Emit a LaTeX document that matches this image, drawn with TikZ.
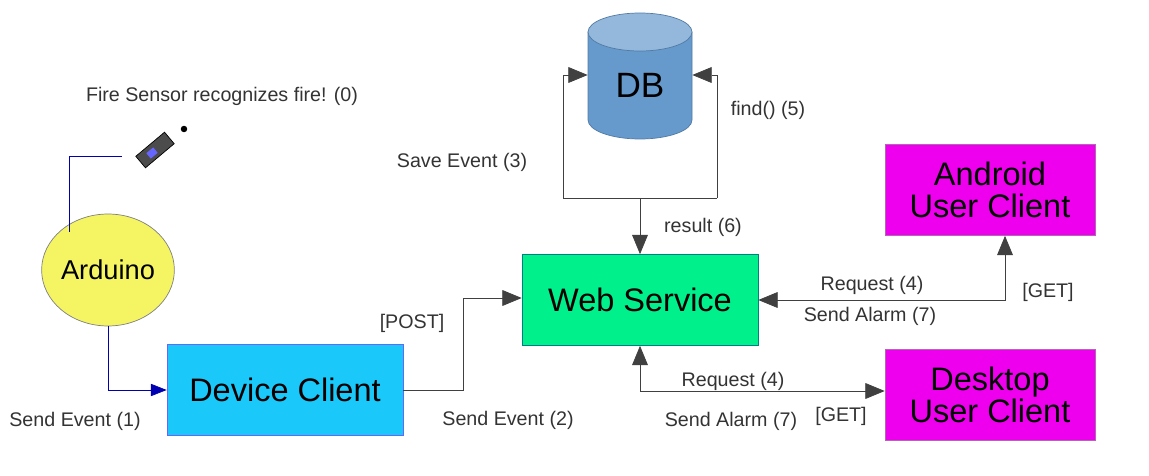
\documentclass[tikz,border=0pt]{standalone}
\usepackage{fontspec}
\setmainfont{Liberation Sans}
\usetikzlibrary{shapes.geometric,arrows.meta}
\definecolor{dbblue}{HTML}{6699CC}
\definecolor{wsgreen}{HTML}{00F08C}
\definecolor{devblue}{HTML}{1AC8FA}
\definecolor{usermag}{HTML}{EE00EE}
\definecolor{ardyel}{HTML}{F5F564}
\definecolor{lbl}{HTML}{333333}
\begin{document}
\begin{tikzpicture}[x=0.02cm,y=-0.02cm,
    box/.style = {draw, minimum width=4.72cm, minimum height=1.82cm, font=\fontsize{18.5}{20}\selectfont, align=center},
    lbl/.style = {text=lbl, font=\fontsize{11.2}{13}\selectfont},
    link/.style = {draw=black!75, -{Triangle[length=11pt,width=9pt]}},
    both/.style = {draw=black!75, {Triangle[length=11pt,width=9pt]}-{Triangle[length=11pt,width=9pt]}}]
        \useasboundingbox (0,0) rectangle (1149,476);
        % database
        \fill[dbblue, draw=dbblue!80!black] (588,32) -- (588,120) arc[start angle=180, end angle=0, x radius=52, y radius=19] -- (692,32) -- cycle;
        \filldraw[fill=dbblue!70!white, draw=dbblue!80!black] (640,32) ellipse[x radius=52, y radius=19];
        \node[minimum width=2.08cm, minimum height=2.5cm, inner sep=0pt] (db) at (640,77) {};
        \node[font=\fontsize{20}{22}\selectfont] (dbt) at (640,85) {DB};
        \node[box, fill=wsgreen, draw=teal] (ws) at (640,300) {Web Service};
        \node[box, fill=devblue, draw=blue!60] (dev) at (285,390) {Device Client};
        \node[box, fill=usermag, draw=violet!60, minimum width=4.2cm] (and) at (990,190) {Android\\[-2pt]User Client};
        \node[box, fill=usermag, draw=violet!60, minimum width=4.2cm] (desk) at (990,395) {Desktop\\[-2pt]User Client};
        \node[ellipse, draw=gray, fill=ardyel, inner sep=0pt, minimum width=2.14cm, minimum height=2.24cm, font=\fontsize{15.5}{17}\selectfont] (ard) at (108,270) {Arduino};
        % sensor
        \node[rotate=40, fill=black!70, draw=black, minimum width=0.75cm, minimum height=0.3cm, inner sep=0pt] (sen) at (155,150) {};
        \node[rotate=40, fill=blue!60, minimum width=0.18cm, minimum height=0.14cm, inner sep=0pt] at (152,153) {};
        \node[circle, fill=black, inner sep=1.3pt] (tip) at (184,129) {};
        \coordinate (sl) at (122,156);
        \coordinate (al) at (69,156);
        \coordinate (at) at (69,232);
        \draw[blue!70!black] (at) -- (al) -- (sl);
        \draw[blue!70!black, -{Triangle[length=9pt,width=7pt]}] (ard.south) |- (dev.west);
        % db loop
        \coordinate (bl) at (563,198);
        \coordinate (br) at (717,198);
        \coordinate (bm) at (640,198);
        \draw[link] (bl) |- (db.west |- 0,75);
        \draw[link] (br) |- (db.east |- 0,75);
        \draw[draw=black!75] (bl) -- (br);
        \draw[link] (bm) -- (ws.north);
        \coordinate (p1) at (463,298);
        \draw[link] (dev.east) -| (p1) -- (ws.west |- p1);
        \coordinate (ac) at (1005,300);
        \draw[both] (ws.east) -- (ac) -- (and.south -| ac);
        \coordinate (dc) at (640,391);
        \draw[both] (ws.south) -- (dc) -- (desk.west |- dc);
        % labels
        \node[lbl] (l0) at (222,96) {Fire Sensor recognizes fire! (0)};
        \node[lbl] (l1) at (75,421) {Send Event (1)};
        \node[lbl] (l2) at (508,420) {Send Event (2)};
        \node[lbl] (l3) at (462,162) {Save Event (3)};
        \node[lbl] (l5) at (768,110) {find() (5)};
        \node[lbl] (l6) at (703,227) {result (6)};
        \node[lbl] (lp) at (412,323) {[POST]};
        \node[lbl] (r4a) at (872,285) {Request (4)};
        \node[lbl] (s7a) at (870,316) {Send Alarm (7)};
        \node[lbl] (ga) at (1048,292) {[GET]};
        \node[lbl] (r4b) at (733,381) {Request (4)};
        \node[lbl] (s7b) at (731,421) {Send Alarm (7)};
        \node[lbl] (gb) at (841,416) {[GET]};
        \end{tikzpicture}
\end{document}
